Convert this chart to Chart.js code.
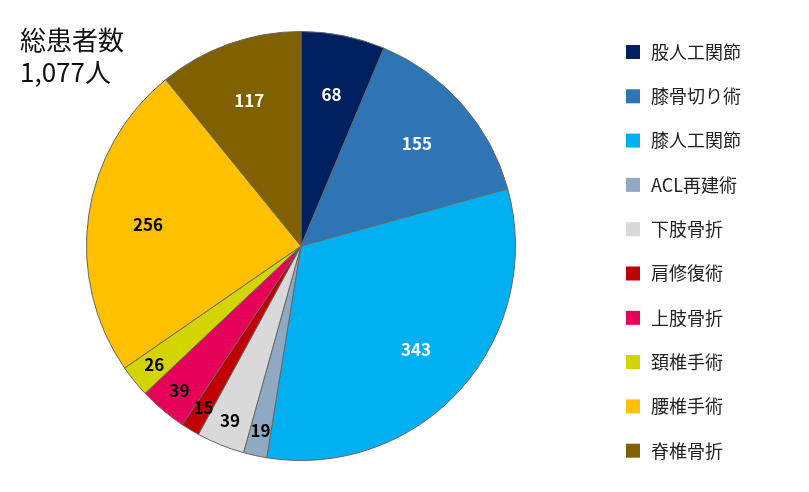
<!DOCTYPE html>
<html><head><meta charset="utf-8">
<script src="https://cdn.jsdelivr.net/npm/chart.js@4"></script>
<style>html,body{margin:0;background:#fff}#w{width:809px;height:492px}</style>
</head><body><div id="w"><canvas id="c"></canvas></div>
<script>
const categories=["股人工関節","膝骨切り術","膝人工関節","ACL再建術","下肢骨折","肩修復術","上肢骨折","頚椎手術","腰椎手術","脊椎骨折"];
const values=[68,155,343,19,39,15,39,26,256,117];
const colors=["#002060","#2E75B6","#00B0F0","#8EA9C1","#D9D9D9","#C00000","#E6005A","#D4D400","#FFC000","#806000"];
const labelColors=["#fff","#fff","#fff","#000","#000","#000","#000","#000","#000","#fff"];
const FONT='"Noto Sans CJK JP","Noto Sans",sans-serif';
const deco={id:'deco',afterDraw(ch){
  const ctx=ch.ctx;const meta=ch.getDatasetMeta(0);
  ctx.save();ctx.textAlign='center';ctx.textBaseline='middle';
  meta.data.forEach((a,i)=>{
    const ang=(a.startAngle+a.endAngle)/2;
    const f=values[i]<50?0.88:0.72;
    const x=a.x+Math.cos(ang)*a.outerRadius*f,y=a.y+Math.sin(ang)*a.outerRadius*f;
    ctx.font='bold 17px '+FONT;ctx.fillStyle=labelColors[i];
    ctx.fillText(values[i],x,y);
  });
  ctx.textAlign='left';ctx.textBaseline='middle';
  categories.forEach((c,i)=>{
    const y=52+i*44.3;
    ctx.fillStyle=colors[i];ctx.fillRect(626,y-7,14,14);
    ctx.fillStyle='#222';ctx.font='18px '+FONT;ctx.fillText(c,651,y);
  });
  ctx.fillStyle='#111';ctx.font='26px '+FONT;ctx.textBaseline='alphabetic';
  ctx.fillText('総患者数',20,50);ctx.fillText('1,077人',20,82);
  ctx.restore();
}};
new Chart(document.getElementById('c'),{type:'pie',
 data:{labels:categories,datasets:[{data:values,backgroundColor:colors,borderColor:'#666',borderWidth:1}]},
 options:{responsive:true,maintainAspectRatio:false,animation:false,
  layout:{padding:{left:86,right:293,top:30,bottom:30}},
  plugins:{legend:{display:false},tooltip:{enabled:false}}},
 plugins:[deco]});
</script></body></html>
